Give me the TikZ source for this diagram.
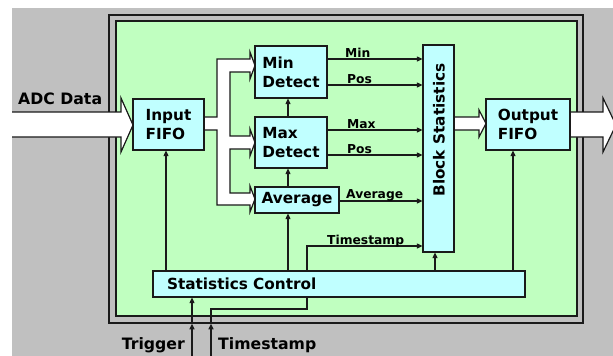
\documentclass[tikz,border=0pt]{standalone}
\usepackage{fontspec}
\setmainfont{DejaVu Sans}
\usetikzlibrary{arrows.meta}
\definecolor{bggray}{HTML}{C0C0C0}
\definecolor{panelc}{HTML}{C0FFC0}
\definecolor{boxc}{HTML}{C0FFFF}
\definecolor{ln}{HTML}{1A1A1A}
\pgfdeclarelayer{back}
\pgfsetlayers{back,main}
\begin{document}
\begin{tikzpicture}[x=1pt,y=-1pt,
  box/.style={draw=ln, line width=1.2pt, fill=boxc, inner sep=0pt, align=left,
    font=\fontsize{15.3}{19}\selectfont\bfseries},
  sig/.style={draw=ln, line width=1.1pt, -{Triangle[length=5.5pt,width=5pt]}},
  wire/.style={draw=ln, line width=1.1pt},
  lbl/.style={font=\fontsize{12.3}{14}\selectfont\bfseries, inner sep=0pt, anchor=base west},
  big/.style={font=\fontsize{15.7}{18}\selectfont\bfseries, inner sep=0pt},
  bus/.style={draw=ln, line width=1.2pt, fill=white, line join=miter},
  frameout/.style={draw=ln, line width=1.5pt, fill=bggray, inner sep=0pt},
  framein/.style={draw=ln, line width=1.3pt, fill=panelc, inner sep=0pt},
]
\useasboundingbox (0,0) rectangle (613,356);
\begin{pgfonlayer}{back}
\fill[white] (0,0) rectangle (613,356);
\fill[bggray] (12,8) rectangle (613,356);
\node[frameout, minimum width=474pt, minimum height=308pt] (frame) at (346,169) {};
\node[framein, minimum width=461pt, minimum height=295pt] (panel) at (346.5,168.5) {};
\end{pgfonlayer}

% boxes
\node[box, minimum width=71pt, minimum height=51pt] (in) at (168.5,124.5) {Input\\FIFO};
\node[box, minimum width=72pt, minimum height=52pt] (minD) at (291,72) {Min\\Detect};
\node[box, minimum width=72pt, minimum height=51pt] (maxD) at (291,142.5) {Max\\Detect};
\node[box, minimum width=84pt, minimum height=26pt] (avg) at (297,200) {Average};
\node[box, minimum width=31pt, minimum height=207pt] (blk) at (438.5,148.5) {};
\node[big, font=\fontsize{15.3}{18}\selectfont\bfseries, rotate=90] (blkT) at (439,130) {Block Statistics};
\node[box, minimum width=84pt, minimum height=51pt] (out) at (528,124.5) {Output\\FIFO};

% coordinates
\coordinate (yMin) at (0,59);
\coordinate (yPos1) at (0,85);
\coordinate (yMax) at (0,130);
\coordinate (yPos2) at (0,155);
\coordinate (yAvg) at (0,201);
\coordinate (yTs) at (0,246);
\coordinate (yTsLow) at (0,309);
\coordinate (xTsUp) at (307,0);
\coordinate (xV) at (288,0);
\coordinate (xIn) at (166,0);
\coordinate (xBlk) at (435,0);
\coordinate (xOut) at (513,0);
\coordinate (trIn) at (192,356);
\coordinate (tsIn) at (211,356);

% big arrows
\begin{pgfonlayer}{back}
\fill[white] (12,112) -- (121,112) -- (121,98) -- (133,125) -- (121,152) -- (121,137) -- (12,137) -- cycle;
\draw[bus, fill=none] (12,112) -- (121,112) -- (121,98) -- (133,125) -- (121,152) -- (121,137) -- (12,137);
\draw[bus] (570,112) -- (603,112) -- (603,98) -- (616,125) -- (603,152) -- (603,137) -- (570,137);
\draw[bus] (454,117) -- (479,117) -- (479,110) -- (486,123.5) -- (479,137) -- (479,130) -- (454,130);
\draw[bus] (204,117) -- (217,117) -- (217,59) -- (250,59) -- (250,52) -- (255,65.5) -- (250,79)
  -- (250,72) -- (230,72) -- (230,136) -- (250,136) -- (250,129) -- (255,142.5) -- (250,156)
  -- (250,149) -- (230,149) -- (230,193) -- (250,193) -- (250,186) -- (255,199) -- (250,212)
  -- (250,205) -- (217,205) -- (217,130) -- (204,130);
% timestamp path behind statistics control
\draw[sig] (tsIn |- frame.south) -- (tsIn |- yTsLow) -- (xTsUp |- yTsLow) -- (xTsUp |- yTs) -- (blk.west |- yTs);
\end{pgfonlayer}

\node[box, minimum width=372pt, minimum height=26pt, text width=344pt, align=left] (ctl) at (339,284) {Statistics Control};

% signal arrows
\draw[sig] (minD.east |- yMin) -- (blk.west |- yMin);
\draw[sig] (minD.east |- yPos1) -- (blk.west |- yPos1);
\draw[sig] (maxD.east |- yMax) -- (blk.west |- yMax);
\draw[sig] (maxD.east |- yPos2) -- (blk.west |- yPos2);
\draw[sig] (avg.east |- yAvg) -- (blk.west |- yAvg);
\draw[sig] (maxD.north -| xV) -- (minD.south -| xV);
\draw[sig] (avg.north -| xV) -- (maxD.south -| xV);
\draw[sig] (ctl.north -| xV) -- (avg.south -| xV);
\draw[sig] (ctl.north -| xIn) -- (in.south -| xIn);
\draw[sig] (ctl.north -| xBlk) -- (blk.south -| xBlk);
\draw[sig] (ctl.north -| xOut) -- (out.south -| xOut);
\draw[sig] (trIn) -- (trIn |- frame.south);
\draw[sig] (trIn |- frame.south) -- (trIn |- ctl.south);
\draw[sig] (tsIn) -- (tsIn |- frame.south);

% labels
\node[lbl] (lMin) at (345,57) {Min};
\node[lbl] (lPos1) at (347,83) {Pos};
\node[lbl] (lMax) at (347,128) {Max};
\node[lbl] (lPos2) at (347,153) {Pos};
\node[lbl] (lAvg) at (346,198.5) {Average};
\node[lbl] (lTs) at (327,244) {Timestamp};
\node[big, anchor=base west] (lAdc) at (18,104) {ADC Data};
\node[big, anchor=base east] (lTrig) at (185,349) {Trigger};
\node[big, anchor=base west] (lTsIn) at (218,349) {Timestamp};
\end{tikzpicture}
\end{document}
